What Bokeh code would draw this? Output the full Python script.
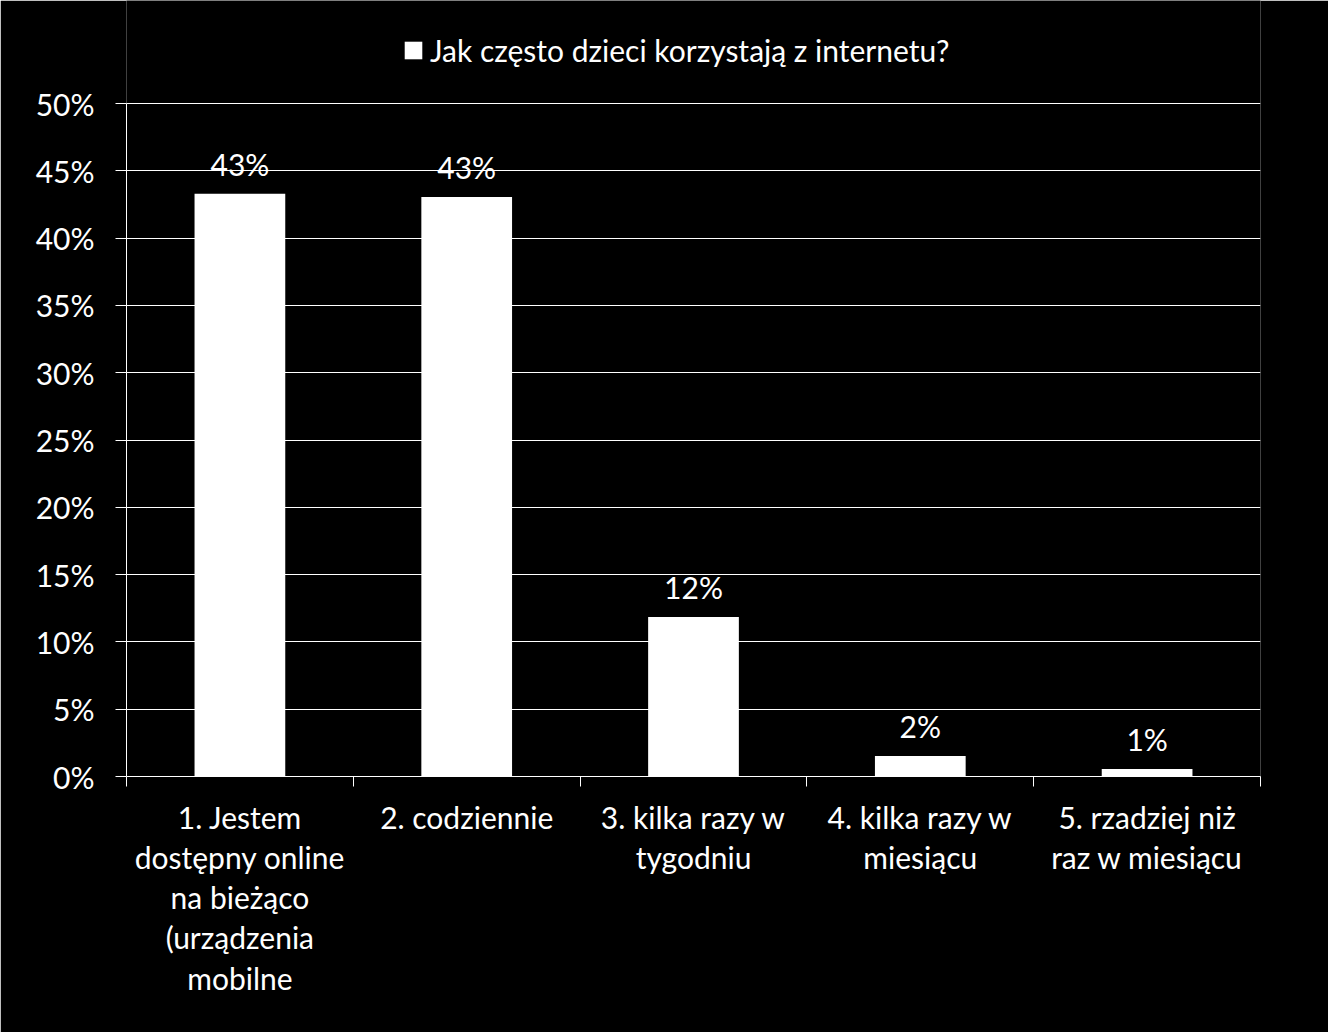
from bokeh.plotting import figure
from bokeh.models import (ColumnDataSource, FixedTicker, PrintfTickFormatter, Legend,
                          LegendItem, Range1d, LinearAxis, Grid)
from bokeh.core.properties import value
from bokeh.embed import file_html
from bokeh.resources import INLINE

categories = [
    "1. Jestem\ndostępny online\nna bieżąco\n(urządzenia\nmobilne",
    "2. codziennie",
    "3. kilka razy w\ntygodniu",
    "4. kilka razy w\nmiesiącu",
    "5. rzadziej niż\nraz w miesiącu",
]
values = [43.3, 43.05, 11.85, 1.52, 0.56]
series_name = "Jak często dzieci korzystają z internetu?"
y_ticks = [0, 5, 10, 15, 20, 25, 30, 35, 40, 45, 50]

FONT = "Lato"
FS = "30px"
W, H = 1328, 1032
BOTTOM = 256
AXIS_TOP_PX = 103          # pixel row where 50% sits
frame_h = H - BOTTOM       # frame spans from top of canvas
y_max = 50 * frame_h / (frame_h - AXIS_TOP_PX)

xs = list(range(1, len(categories) + 1))
labels = [f"{round(v)}%" for v in values]
src = ColumnDataSource(dict(x=xs, top=values, label=labels))

p = figure(width=W, height=H, output_backend="svg", toolbar_location=None,
           x_range=Range1d(0.5, len(categories) + 0.5), y_range=Range1d(0, y_max),
           background_fill_color="black", border_fill_color="black",
           min_border_left=126, min_border_right=68, min_border_top=0,
           min_border_bottom=BOTTOM, x_axis_type=None, y_axis_type=None)
p.outline_line_color = None

bars = p.vbar(x="x", top="top", width=0.4, source=src, fill_color="white",
              line_color=None)
p.text(x="x", y="top", text="label", source=src, text_align="center",
       text_baseline="bottom", y_offset=-12, text_color="white",
       text_font=value(FONT), text_font_size=FS)

# y axis
yaxis = LinearAxis(ticker=FixedTicker(ticks=y_ticks, minor_ticks=[]),
                   formatter=PrintfTickFormatter(format="%d%%"), bounds=(0, 50))
yaxis.axis_line_color = "white"
yaxis.major_tick_line_color = "white"
yaxis.major_tick_out = 11
yaxis.major_tick_in = 0
yaxis.minor_tick_line_color = None
yaxis.major_label_text_color = "white"
yaxis.major_label_text_font = FONT
yaxis.major_label_text_font_size = FS
yaxis.major_label_standoff = 21
p.add_layout(yaxis, "left")

# x axis
xaxis = LinearAxis(ticker=FixedTicker(ticks=xs,
                                      minor_ticks=[i + 0.5 for i in range(len(categories) + 1)]))
xaxis.major_label_overrides = {x: c for x, c in zip(xs, categories)}
xaxis.axis_line_color = "white"
xaxis.major_tick_line_color = None
xaxis.major_tick_out = 0
xaxis.major_tick_in = 0
xaxis.minor_tick_line_color = "white"
xaxis.minor_tick_out = 10
xaxis.minor_tick_in = 0
xaxis.major_label_text_color = "white"
xaxis.major_label_text_font = FONT
xaxis.major_label_text_font_size = FS
xaxis.major_label_text_line_height = 1.12
xaxis.major_label_standoff = 12
p.add_layout(xaxis, "below")

grid = Grid(dimension=1, ticker=yaxis.ticker, grid_line_color="white", grid_line_width=1)
p.add_layout(grid)

legend = Legend(items=[LegendItem(label=series_name, renderers=[bars])],
                location=(276, frame_h - 68), orientation="horizontal",
                background_fill_alpha=0, border_line_color=None,
                label_text_color="white", label_text_font=FONT,
                label_text_font_size=FS, glyph_width=22, glyph_height=22,
                label_standoff=6, padding=0, margin=0)
p.add_layout(legend, "center")

open("out.html", "w").write(file_html(p, INLINE))
